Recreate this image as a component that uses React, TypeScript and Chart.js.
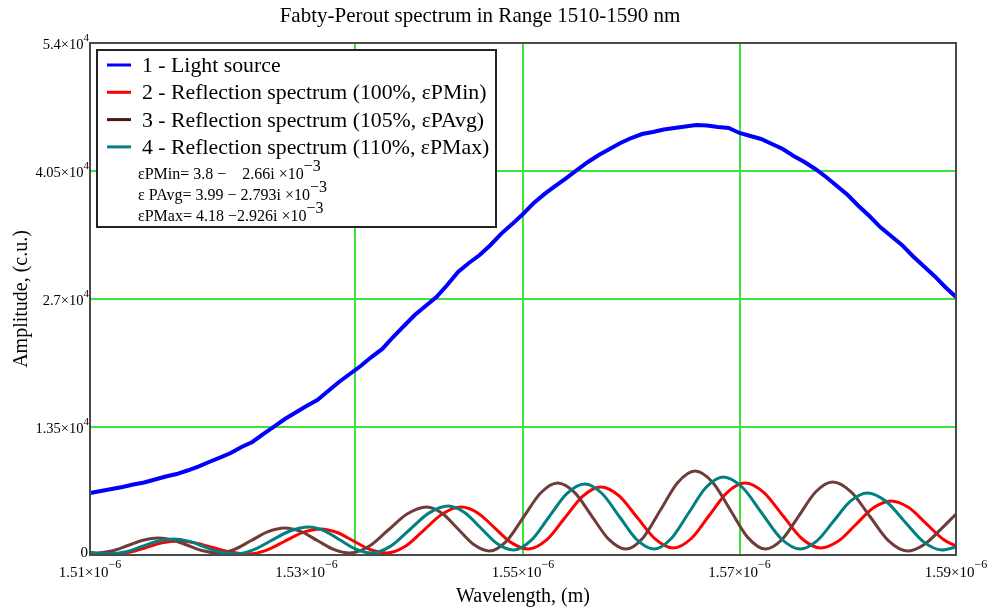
import React, { useEffect, useRef } from "react";
import { Chart, registerables } from "chart.js";

Chart.register(...registerables);

// ---- data (wavelength in nm, amplitude in c.u.) ----
const sourceNm = [
  1510, 1511, 1512, 1513, 1514, 1515, 1516, 1517, 1518, 1519, 1520, 1521, 1522, 1523, 1524, 1525, 1526, 1527, 1528, 1529,
  1530, 1531, 1532, 1533, 1534, 1535, 1536, 1537, 1538, 1539, 1540, 1541, 1542, 1543, 1544, 1545, 1546, 1547, 1548, 1549,
  1550, 1551, 1552, 1553, 1554, 1555, 1556, 1557, 1558, 1559, 1560, 1561, 1562, 1563, 1564, 1565, 1566, 1567, 1568, 1569,
  1570, 1571, 1572, 1573, 1574, 1575, 1576, 1577, 1578, 1579, 1580, 1581, 1582, 1583, 1584, 1585, 1586, 1587, 1588, 1589,
  1590,
];
const lightSource = [
  6540, 6750, 6960, 7170, 7440, 7650, 7960, 8280, 8540, 8910, 9330, 9810, 10280, 10760, 11390, 11920, 12760, 13550, 14340, 15030,
  15720, 16350, 17300, 18250, 19090, 19930, 20880, 21730, 22990, 24150, 25310, 26260, 27210, 28480, 29850, 30800, 31640, 32700, 33900, 34900,
  35970, 37130, 38080, 38920, 39760, 40610, 41450, 42190, 42820, 43450, 43980, 44400, 44610, 44880, 45040, 45190, 45350, 45300, 45140, 45040,
  44510, 44190, 43880, 43350, 42820, 42080, 41450, 40710, 39870, 38920, 37970, 36810, 35750, 34590, 33650, 32700, 31540, 30480, 29430, 28270,
  27210,
];

const reflMinNm = [
  1510, 1512.3, 1513.75, 1515.2, 1516.65, 1518.1, 1519.73, 1521.35, 1522.98, 1524.6, 1526.28, 1527.95, 1529.63,
  1531.3, 1532.83, 1534.35, 1535.88, 1537.4, 1539.13, 1540.85, 1542.58, 1544.3, 1545.85, 1547.4, 1548.95,
  1550.5, 1552.18, 1553.85, 1555.53, 1557.2, 1558.88, 1560.55, 1562.23, 1563.9, 1565.55, 1567.2, 1568.85,
  1570.5, 1572.25, 1574.0, 1575.75, 1577.5, 1579.13, 1580.75, 1582.38, 1584.0, 1585.63, 1587.25, 1588.88, 1590,
];
const reflMin = [
  210, 105, 306, 793, 1279, 1480, 1279, 793, 306, 105, 490, 1423, 2355,
  2740, 2371, 1475, 579, 210, 918, 2635, 4352, 5060, 4413, 2845, 1277,
  630, 1585, 3900, 6215, 7170, 6231, 3955, 1679, 740, 1740, 4165, 6590,
  7590, 6590, 4165, 1740, 740, 1464, 3220, 4976, 5700, 5001, 3300, 1599, 950,
];

const reflAvgNm = [
  1510, 1510.7, 1512.1, 1513.5, 1514.9, 1516.3, 1517.68, 1519.05, 1520.43, 1521.8, 1523.35, 1524.9, 1526.45,
  1528.0, 1529.5, 1531.0, 1532.5, 1534.0, 1535.78, 1537.55, 1539.33, 1541.1, 1542.55, 1544.0, 1545.45,
  1546.9, 1548.48, 1550.05, 1551.63, 1553.2, 1554.78, 1556.35, 1557.93, 1559.5, 1561.1, 1562.7, 1564.3,
  1565.9, 1567.53, 1569.15, 1570.78, 1572.4, 1573.95, 1575.5, 1577.05, 1578.6, 1580.33, 1582.05, 1583.78,
  1585.5, 1587.1, 1588.75, 1590,
];
const reflAvg = [
  260, 210, 441, 1000, 1559, 1790, 1559, 1000, 441, 210, 595, 1530, 2465,
  2850, 2465, 1530, 595, 210, 918, 2635, 4352, 5060, 4383, 2740, 1097,
  420, 1467, 4005, 6543, 7590, 6574, 4110, 1646, 630, 1832, 4745, 7658,
  8860, 7658, 4745, 1832, 630, 1662, 4165, 6668, 7700, 6637, 4060, 1483,
  420, 1140, 2890, 4320,
];

const reflMaxNm = [
  1510, 1511.9, 1513.35, 1514.8, 1516.25, 1517.7, 1519.1, 1520.5, 1521.9, 1523.3, 1525.03, 1526.75, 1528.48,
  1530.2, 1531.65, 1533.1, 1534.55, 1536.0, 1537.78, 1539.55, 1541.33, 1543.1, 1544.6, 1546.1, 1547.6,
  1549.1, 1550.75, 1552.4, 1554.05, 1555.7, 1557.3, 1558.9, 1560.5, 1562.1, 1563.7, 1565.3, 1566.9,
  1568.5, 1570.28, 1572.05, 1573.83, 1575.6, 1577.15, 1578.7, 1580.25, 1581.8, 1583.53, 1585.25, 1586.98,
  1588.7, 1590,
];
const reflMax = [
  210, 105, 336, 898, 1459, 1690, 1459, 898, 336, 105, 520, 1528, 2535,
  2950, 2550, 1580, 610, 210, 934, 2690, 4446, 5170, 4493, 2850, 1207,
  530, 1546, 4010, 6474, 7490, 6488, 4060, 1632, 630, 1740, 4430, 7120,
  8230, 7120, 4430, 1740, 630, 1493, 3585, 5677, 6540, 5663, 3535, 1407,
  530, 840,
];

const seriesLabels = [
  "1 - Light source",
  "2 - Reflection spectrum (100%, \u03b5PMin)",
  "3 - Reflection spectrum (105%, \u03b5PAvg)",
  "4 - Reflection spectrum (110%, \u03b5PMax)",
];
const formulaBases = [
  "\u03b5PMin= 3.8 \u2212    2.66i \u00d710",
  "\u03b5 PAvg= 3.99 \u2212 2.793i \u00d710",
  "\u03b5PMax= 4.18 \u22122.926i \u00d710",
];
const formulaExp = "\u22123";

const xTicksNm = [1510, 1530, 1550, 1570, 1590];
const xTickLabels = ["1.51\u00d710", "1.53\u00d710", "1.55\u00d710", "1.57\u00d710", "1.59\u00d710"];
const xTickExp = "\u22126";
const xGridNm = [1534.5, 1550, 1570];

const yTicks = [0, 13500, 27000, 40500, 54000];
const yTickLabels = ["0", "1.35\u00d710", "2.7\u00d710", "4.05\u00d710", "5.4\u00d710"];
const yTickExp = "4";
const yGridValues = [13500, 27000, 40500];

const titleText = "Fabty-Perout spectrum in Range 1510-1590 nm";
const xTitle = "Wavelength, (m)";
const yTitle = "Amplitude, (c.u.)";

// ---- styles ----
const FONT = "'Liberation Serif', 'Times New Roman', serif";
const COLORS = ["#0000ff", "#ff0000", "#6f3c3a", "#008080"];
const LEGEND_COLORS = ["#0000ff", "#ff0000", "#4e1414", "#0a7c7c"];
const GRID = "#3be23b";

const pts = (xs: number[], ys: number[]) => xs.map((v, i) => ({ x: v, y: ys[i] }));

function supText(
  ctx: CanvasRenderingContext2D,
  base: string,
  sup: string,
  x: number,
  y: number,
  align: "left" | "center" | "right",
  baseFont: string,
  supFont: string,
  rise: number
) {
  ctx.font = baseFont;
  const bw = ctx.measureText(base).width;
  ctx.font = supFont;
  const sw = sup ? ctx.measureText(sup).width : 0;
  const total = bw + sw;
  const sx = align === "left" ? x : align === "center" ? x - total / 2 : x - total;
  ctx.textAlign = "left";
  ctx.textBaseline = "alphabetic";
  ctx.font = baseFont;
  ctx.fillText(base, sx, y);
  if (sup) {
    ctx.font = supFont;
    ctx.fillText(sup, sx + bw, y - rise);
  }
}

const decor = {
  id: "decor",
  beforeDatasetsDraw(chart: any) {
    const { ctx, chartArea: a, scales } = chart;
    const x = scales.x;
    const y = scales.y;
    ctx.save();
    ctx.strokeStyle = GRID;
    ctx.lineWidth = 2;
    xGridNm.forEach((v) => {
      const px = Math.round(x.getPixelForValue(v));
      ctx.beginPath();
      ctx.moveTo(px, a.top);
      ctx.lineTo(px, a.bottom);
      ctx.stroke();
    });
    yGridValues.forEach((v) => {
      const py = Math.round(y.getPixelForValue(v));
      ctx.beginPath();
      ctx.moveTo(a.left, py);
      ctx.lineTo(a.right, py);
      ctx.stroke();
    });
    ctx.restore();
  },
  afterDatasetsDraw(chart: any) {
    const { ctx, chartArea: a, scales } = chart;
    const x = scales.x;
    const y = scales.y;
    ctx.save();

    // frame
    ctx.strokeStyle = "#4a4a4a";
    ctx.lineWidth = 2;
    ctx.strokeRect(a.left, a.top, a.right - a.left, a.bottom - a.top);

    ctx.fillStyle = "#000";
    // title
    ctx.font = `21px ${FONT}`;
    ctx.textAlign = "center";
    ctx.textBaseline = "alphabetic";
    ctx.fillText(titleText, 480, 22);

    // x ticks
    xTicksNm.forEach((v, i) => {
      const px = x.getPixelForValue(v);
      supText(ctx, xTickLabels[i], xTickExp, px, a.bottom + 22, "center", `15px ${FONT}`, `12px ${FONT}`, 9);
    });
    // y ticks
    yTicks.forEach((v, i) => {
      const py = y.getPixelForValue(v);
      if (i === 0) {
        supText(ctx, yTickLabels[i], "", a.left - 2, a.bottom + 2, "right", `15px ${FONT}`, `11px ${FONT}`, 8);
      } else {
        supText(ctx, yTickLabels[i], yTickExp, a.left - 1, py + 6, "right", `14.5px ${FONT}`, `11px ${FONT}`, 8);
      }
    });

    // axis titles
    ctx.font = `20px ${FONT}`;
    ctx.textAlign = "center";
    ctx.textBaseline = "alphabetic";
    ctx.fillText(xTitle, (a.left + a.right) / 2, a.bottom + 47);
    ctx.save();
    ctx.translate(27, (a.top + a.bottom) / 2);
    ctx.rotate(-Math.PI / 2);
    ctx.fillText(yTitle, 0, 0);
    ctx.restore();

    // legend
    const lx = a.left + 7;
    const ly = a.top + 7;
    ctx.fillStyle = "#fff";
    ctx.fillRect(lx, ly, 399, 177);
    ctx.strokeStyle = "#222";
    ctx.lineWidth = 2;
    ctx.strokeRect(lx, ly, 399, 177);
    chart.data.datasets.forEach((ds: any, i: number) => {
      const cy = ly + 15 + i * 27.3;
      ctx.strokeStyle = LEGEND_COLORS[i];
      ctx.lineWidth = 3;
      ctx.beginPath();
      ctx.moveTo(lx + 10, cy);
      ctx.lineTo(lx + 34, cy);
      ctx.stroke();
      ctx.fillStyle = "#000";
      ctx.font = `21.8px ${FONT}`;
      ctx.textAlign = "left";
      ctx.textBaseline = "alphabetic";
      ctx.fillText(ds.label, lx + 45, cy + 7);
    });
    ctx.fillStyle = "#000";
    formulaBases.forEach((t, i) => {
      supText(ctx, t, formulaExp, lx + 41, ly + 129 + i * 21, "left", `16px ${FONT}`, `16px ${FONT}`, 8);
    });

    ctx.restore();
  },
};

export default function App() {
  const ref = useRef<HTMLCanvasElement | null>(null);

  useEffect(() => {
    document.body.style.margin = "0";
    const canvas = ref.current;
    if (!canvas) return;
    const chart = new Chart(canvas, {
      type: "line",
      data: {
        datasets: [
          {
            label: seriesLabels[0],
            data: pts(sourceNm, lightSource),
            borderColor: COLORS[0],
            borderWidth: 4,
            pointRadius: 0,
            tension: 0,
            order: 4,
          },
          {
            label: seriesLabels[1],
            data: pts(reflMinNm, reflMin),
            borderColor: COLORS[1],
            borderWidth: 3,
            pointRadius: 0,
            cubicInterpolationMode: "monotone",
            order: 3,
          },
          {
            label: seriesLabels[2],
            data: pts(reflAvgNm, reflAvg),
            borderColor: COLORS[2],
            borderWidth: 3,
            pointRadius: 0,
            cubicInterpolationMode: "monotone",
            order: 2,
          },
          {
            label: seriesLabels[3],
            data: pts(reflMaxNm, reflMax),
            borderColor: COLORS[3],
            borderWidth: 3,
            pointRadius: 0,
            cubicInterpolationMode: "monotone",
            order: 1,
          },
        ],
      } as any,
      options: {
        animation: false,
        responsive: false,
        devicePixelRatio: 1,
        layout: { padding: { left: 90, top: 43, right: 36, bottom: 56 } },
        scales: {
          x: { type: "linear", min: 1510, max: 1590, display: false },
          y: { type: "linear", min: 0, max: 54000, display: false },
        },
        plugins: {
          legend: { display: false },
          title: { display: false },
          tooltip: { enabled: false },
        },
      } as any,
      plugins: [decor],
    });
    return () => chart.destroy();
  }, []);

  return (
    <div style={{ position: "absolute", left: 0, top: 0, width: 992, height: 611, background: "#fff" }}>
      <canvas ref={ref} width={992} height={611} />
    </div>
  );
}
